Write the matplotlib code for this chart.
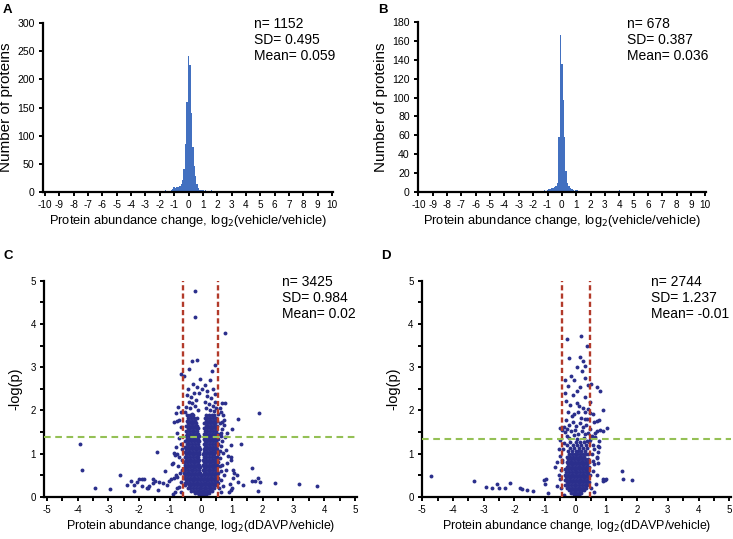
import matplotlib
matplotlib.use('Agg')
import matplotlib.pyplot as plt
from matplotlib.ticker import MultipleLocator

plt.rcParams['font.family'] = ['Liberation Sans', 'DejaVu Sans']
plt.rcParams['axes.unicode_minus'] = False

# ---- panel A histogram (bin centre, count) ----
a_bins = [-4.1, -3.2, -2.5, -2.1, -1.6, -1.4, -1.2, -1.1, -1.0, -0.9, -0.8, -0.7,
          -0.6, -0.5, -0.4, -0.3, -0.2, -0.1, 0.0, 0.1, 0.2, 0.3, 0.4, 0.5, 0.6,
          0.7, 0.8, 0.9, 1.0, 1.2, 1.4, 1.6, 1.8, 2.2, 2.5, 3.0, 3.4, 3.6, 4.0,
          4.6, 5.1, 5.9, 6.1]
a_counts = [1, 1, 2, 2, 3, 2, 4, 6, 8, 7, 8, 9,
            11, 14, 22, 40, 85, 160, 242, 226, 140, 80, 46, 28, 14,
            7, 4, 3, 3, 3, 2, 3, 2, 2, 1, 2, 1, 1, 2,
            2, 1, 1, 1]

# ---- panel B histogram ----
b_bins = [-2.4, -2.2, -1.9, -1.5, -1.2, -1.0, -0.9, -0.8, -0.7, -0.6, -0.5, -0.4,
          -0.3, -0.2, -0.1, 0.0, 0.1, 0.2, 0.3, 0.4, 0.5, 0.6, 0.7, 0.8, 1.0,
          1.1, 1.3, 1.6, 1.9, 2.1, 4.0]
b_counts = [1, 1, 1, 1, 2, 2, 3, 3, 4, 4, 5, 6,
            10, 58, 166, 135, 97, 58, 22, 10, 6, 4, 3, 2, 2,
            2, 1, 1, 1, 1, 2]

# ---- panel C volcano: dense core read row by row (y, [x...]) ----
c_core_rows = [
    (0.03, [-0.06, 0.02, 0.09, 0.15]),
    (0.08, [-0.18, -0.1, -0.02, 0.05, 0.12, 0.2, 0.27]),
    (0.14, [-0.31, -0.22, -0.13, -0.05, 0.03, 0.11, 0.19, 0.27, 0.36]),
    (0.20, [-0.42, -0.34, -0.25, -0.16, -0.07, 0.01, 0.1, 0.18, 0.26, 0.34, 0.43]),
    (0.26, [-0.5, -0.4, -0.31, -0.22, -0.13, -0.04, 0.05, 0.14, 0.22, 0.31, 0.4, 0.49]),
    (0.32, [-0.53, -0.44, -0.35, -0.26, -0.17, -0.08, 0.0, 0.09, 0.18, 0.27, 0.36, 0.45, 0.54]),
    (0.38, [-0.49, -0.4, -0.3, -0.21, -0.12, -0.03, 0.06, 0.15, 0.24, 0.33, 0.42, 0.51]),
    (0.44, [-0.54, -0.45, -0.36, -0.27, -0.18, -0.09, 0.01, 0.1, 0.19, 0.28, 0.37, 0.46, 0.56]),
    (0.50, [-0.5, -0.41, -0.32, -0.22, -0.13, -0.04, 0.05, 0.14, 0.23, 0.33, 0.42, 0.51]),
    (0.56, [-0.55, -0.46, -0.37, -0.28, -0.19, -0.1, -0.03, 0.09, 0.18, 0.27, 0.36, 0.45, 0.54]),
    (0.62, [-0.5, -0.42, -0.33, -0.24, -0.15, -0.06, 0.07, 0.13, 0.22, 0.31, 0.4, 0.49]),
    (0.68, [-0.53, -0.45, -0.36, -0.27, -0.18, -0.09, -0.03, 0.09, 0.17, 0.26, 0.35, 0.44, 0.53]),
    (0.74, [-0.5, -0.41, -0.32, -0.23, -0.14, -0.05, 0.08, 0.17, 0.26, 0.35, 0.44, 0.52]),
    (0.80, [-0.54, -0.45, -0.36, -0.27, -0.18, -0.09, 0.09, 0.17, 0.25, 0.33, 0.41, 0.49, 0.56]),
    (0.86, [-0.49, -0.4, -0.31, -0.22, -0.13, -0.05, 0.08, 0.17, 0.26, 0.35, 0.44, 0.53]),
    (0.92, [-0.53, -0.44, -0.35, -0.26, -0.17, -0.08, 0.1, 0.18, 0.27, 0.36, 0.45, 0.52]),
    (0.98, [-0.48, -0.39, -0.3, -0.21, -0.12, -0.05, 0.08, 0.17, 0.26, 0.35, 0.44, 0.54]),
    (1.04, [-0.52, -0.43, -0.34, -0.25, -0.16, -0.07, 0.11, 0.19, 0.28, 0.37, 0.46]),
    (1.10, [-0.47, -0.38, -0.29, -0.2, -0.11, -0.04, 0.09, 0.17, 0.26, 0.35, 0.44, 0.53]),
    (1.16, [-0.51, -0.42, -0.33, -0.24, -0.15, -0.07, 0.12, 0.21, 0.3, 0.39, 0.48]),
    (1.22, [-0.46, -0.37, -0.28, -0.19, -0.1, 0.09, 0.18, 0.27, 0.36, 0.45, 0.54]),
    (1.28, [-0.5, -0.41, -0.32, -0.23, -0.14, -0.06, 0.12, 0.21, 0.3, 0.39, 0.49]),
    (1.34, [-0.45, -0.36, -0.27, -0.18, -0.09, 0.09, 0.18, 0.27, 0.36, 0.45, 0.55]),
    (1.40, [-0.49, -0.4, -0.31, -0.22, -0.13, -0.05, 0.13, 0.22, 0.31, 0.4, 0.49]),
    (1.46, [-0.44, -0.35, -0.26, -0.17, -0.08, 0.1, 0.18, 0.27, 0.36, 0.45, 0.54]),
    (1.52, [-0.48, -0.39, -0.3, -0.21, -0.12, 0.12, 0.21, 0.3, 0.39, 0.48]),
    (1.58, [-0.43, -0.34, -0.25, -0.16, -0.08, 0.1, 0.19, 0.28, 0.37, 0.46]),
    (1.64, [-0.47, -0.38, -0.29, -0.2, -0.11, 0.15, 0.24, 0.33, 0.42, 0.51]),
    (1.70, [-0.42, -0.33, -0.24, -0.15, 0.11, 0.2, 0.29, 0.38, 0.47]),
    (1.76, [-0.46, -0.37, -0.28, -0.19, 0.16, 0.25, 0.34, 0.43, 0.52]),
    (1.82, [-0.41, -0.32, -0.23, -0.14, 0.12, 0.21, 0.3, 0.39, 0.48]),
    (1.88, [-0.44, -0.35, -0.26, 0.17, 0.26, 0.35, 0.44]),
]

c_outer = [
    (-0.19, 4.76), (-0.19, 4.15), (0.79, 3.79), (-0.11, 3.16), (-0.30, 3.14), (-0.38, 2.96),
    (0.46, 3.04), (0.35, 2.90), (-0.64, 2.85), (-0.56, 2.79), (-0.02, 2.72), (0.30, 2.70),
    (0.12, 2.58), (-0.25, 2.62), (0.40, 2.50), (0.78, 2.18), (1.88, 1.94), (1.20, 1.81),
    (1.00, 1.57), (1.30, 1.21), (-3.92, 1.23), (-3.85, 0.62), (-1.41, 1.04), (-3.45, 0.19),
    (-2.94, 0.17), (-2.64, 0.50), (-2.40, 0.27), (-2.28, 0.36), (-2.18, 0.14), (-2.18, 0.26),
    (-2.06, 0.35), (-2.00, 0.40), (-1.92, 0.41), (-1.86, 0.40), (-1.90, 0.24), (-1.76, 0.19),
    (-1.73, 0.19), (-1.69, 0.25), (-1.56, 0.32), (-1.48, 0.37), (-1.54, 0.40), (-1.38, 0.15),
    (-1.37, 0.33), (-1.22, 0.32), (-1.16, 0.60), (-1.03, 0.37), (-0.96, 0.40), (-0.88, 0.43),
    (-0.82, 0.51), (-0.91, 0.79), (-0.84, 0.96), (-0.79, 1.00), (-0.76, 1.75), (-0.84, 0.12),
    (-0.79, 0.19), (0.97, 0.92), (1.65, 0.66), (1.08, 0.56), (1.16, 0.50), (1.03, 0.43),
    (1.21, 0.35), (1.65, 0.36), (1.76, 0.36), (1.86, 0.44), (1.91, 0.34), (1.86, 0.14),
    (1.36, 0.27), (2.41, 0.31), (3.19, 0.29), (3.78, 0.25), (1.00, 0.19), (0.92, 0.12),
    (0.69, 2.16), (0.72, 1.89), (0.74, 1.78), (0.76, 1.66), (0.68, 1.57), (0.86, 1.47),
    (0.78, 1.39), (0.97, 1.20), (0.81, 1.08), (0.97, 0.85), (0.86, 0.78), (1.03, 0.62),
    (0.94, 0.30), (0.97, 0.15), (0.66, 1.95), (0.70, 1.72), (0.64, 1.48), (0.70, 1.30),
    (0.66, 1.18), (0.72, 1.02), (0.63, 0.90), (0.70, 0.74), (0.66, 0.60), (0.75, 0.50),
    (0.64, 0.38), (0.72, 0.25), (0.66, 0.12), (0.82, 0.62), (0.88, 0.94), (0.62, 2.05),
    (0.63, 1.70), (0.65, 1.40), (0.62, 1.05), (0.61, 0.70), (0.60, 0.20),
    (-0.86, 1.74), (-0.81, 1.94), (-0.74, 2.08), (-0.65, 1.96), (-0.78, 1.48), (-0.72, 1.35),
    (-0.80, 1.15), (-0.66, 1.22), (-0.88, 1.02), (-0.70, 0.92), (-0.95, 0.75), (-0.74, 0.72),
    (-0.62, 0.84), (-0.68, 0.55), (-0.78, 0.46), (-0.64, 0.33), (-0.72, 0.22), (-0.92, 0.06),
    (-0.66, 1.62), (-0.62, 1.10), (-0.60, 0.62), (-0.63, 0.10), (-1.10, 0.28), (-0.70, 1.78),
    (-0.45, 2.35), (-0.33, 2.30), (-0.22, 2.40), (-0.40, 2.20), (-0.28, 2.18), (-0.15, 2.25),
    (-0.48, 2.08), (-0.36, 2.05), (-0.20, 2.10), (-0.10, 2.00), (0.20, 2.32), (0.32, 2.28),
    (0.45, 2.20), (0.12, 2.20), (0.26, 2.15), (0.38, 2.10), (0.50, 2.05), (0.15, 2.05),
    (0.28, 2.00), (0.42, 1.98), (0.55, 1.92), (-0.50, 1.95), (-0.30, 1.92), (-0.05, 2.40),
    (0.05, 2.50), (0.20, 2.45), (0.45, 2.38), (-0.42, 2.50), (-0.12, 2.55),
]

# ---- panel D volcano ----
d_core_rows = [
    (0.03, [-0.05, 0.03, 0.1]),
    (0.09, [-0.15, -0.07, 0.01, 0.09, 0.17]),
    (0.15, [-0.23, -0.15, -0.06, 0.02, 0.1, 0.19, 0.27]),
    (0.21, [-0.3, -0.21, -0.12, -0.03, 0.06, 0.15, 0.24, 0.33]),
    (0.27, [-0.34, -0.25, -0.16, -0.07, 0.02, 0.11, 0.2, 0.29, 0.38]),
    (0.33, [-0.3, -0.21, -0.12, -0.03, 0.06, 0.15, 0.24, 0.33, 0.42]),
    (0.39, [-0.36, -0.27, -0.18, -0.09, 0.0, 0.09, 0.18, 0.27, 0.36]),
    (0.45, [-0.32, -0.23, -0.14, -0.05, 0.04, 0.13, 0.22, 0.31, 0.4]),
    (0.51, [-0.35, -0.26, -0.17, -0.08, 0.01, 0.1, 0.19, 0.28, 0.37, 0.45]),
    (0.57, [-0.31, -0.22, -0.13, -0.04, 0.05, 0.14, 0.23, 0.32, 0.41]),
    (0.63, [-0.34, -0.25, -0.16, -0.07, 0.02, 0.11, 0.2, 0.29, 0.38]),
    (0.69, [-0.3, -0.21, -0.12, -0.03, 0.06, 0.15, 0.24, 0.33, 0.42]),
    (0.75, [-0.26, -0.17, -0.08, 0.01, 0.1, 0.19, 0.28, 0.37]),
    (0.81, [-0.29, -0.2, -0.11, -0.02, 0.07, 0.16, 0.25, 0.34, 0.43]),
    (0.87, [-0.24, -0.15, -0.06, 0.03, 0.12, 0.21, 0.3, 0.39]),
    (0.93, [-0.27, -0.18, -0.09, 0.0, 0.09, 0.18, 0.27]),
    (0.99, [-0.22, -0.13, -0.04, 0.05, 0.14, 0.23, 0.32, 0.41]),
    (1.05, [-0.25, -0.11, 0.0, 0.08, 0.17, 0.3]),
    (1.12, [-0.18, -0.05, 0.12, 0.22, 0.38]),
    (1.19, [-0.28, -0.1, 0.05, 0.18, 0.33]),
    (1.26, [-0.2, 0.0, 0.13, 0.26, 0.44]),
]

d_outer = [
    (-4.73, 0.49), (-3.30, 0.36), (-2.92, 0.23), (-2.73, 0.19), (-2.57, 0.29), (-2.51, 0.21),
    (-2.32, 0.19), (-2.13, 0.31), (-1.81, 0.21), (-1.76, 0.18), (-1.59, 0.15), (-1.41, 0.14),
    (-1.05, 0.39), (-0.96, 0.40), (-1.00, 0.30), (-0.92, 0.08), (-0.67, 0.69), (-0.60, 0.80),
    (-0.55, 0.50), (-0.50, 0.40), (-0.62, 0.25), (-0.48, 0.62), (-0.45, 0.85), (-0.52, 0.95),
    (-0.42, 1.10), (-0.47, 0.20), (-0.40, 0.05),
    (1.52, 0.59), (1.55, 0.42), (1.83, 0.39), (0.90, 0.42), (0.95, 0.38), (0.98, 0.40),
    (0.90, 0.36), (0.60, 0.10), (0.65, 0.30), (0.55, 0.60), (0.60, 0.75), (0.68, 0.90),
    (0.52, 1.00), (0.60, 1.10), (0.72, 1.18), (0.55, 1.20), (0.64, 1.38), (0.70, 0.50),
    (0.50, 0.20), (0.55, 0.82),
    (-0.29, 3.64), (0.16, 3.73), (0.36, 3.50), (-0.22, 3.22), (0.14, 3.23), (0.23, 3.13),
    (0.30, 3.02), (-0.05, 2.69), (-0.24, 2.56), (0.14, 2.55), (0.41, 2.58), (0.49, 2.60),
    (0.68, 2.53), (0.79, 2.45), (0.90, 2.01), (1.01, 1.59), (0.90, 1.51), (0.74, 1.77),
    (0.68, 1.75), (0.60, 1.74), (0.80, 1.55), (0.70, 1.52), (0.62, 1.48), (0.77, 1.30),
    (0.74, 1.16), (0.72, 1.04), (0.70, 0.92), (0.72, 0.78),
    (-0.53, 1.60), (-0.45, 1.55), (-0.35, 1.49), (-0.50, 1.32), (-0.40, 1.25), (-0.55, 1.10),
    (-0.45, 0.80),
    (-0.31, 2.22), (-0.18, 2.13), (0.03, 2.17), (0.11, 2.09), (0.24, 2.06), (0.29, 1.97),
    (0.41, 2.04), (0.47, 1.94), (-0.26, 1.96), (-0.13, 1.87), (-0.06, 1.91), (0.07, 1.95),
    (0.17, 1.83), (0.29, 1.79), (0.37, 1.81), (0.55, 1.92), (-0.33, 1.77), (-0.21, 1.66),
    (-0.09, 1.74), (0.01, 1.63), (0.13, 1.71), (0.23, 1.61), (0.34, 1.66), (0.46, 1.57),
    (-0.38, 1.62), (-0.27, 1.56), (-0.16, 1.51), (-0.02, 1.55), (0.07, 1.46), (0.19, 1.52),
    (0.31, 1.44), (0.41, 1.47), (0.52, 1.41), (-0.29, 1.40), (-0.21, 1.35), (-0.07, 1.43),
    (0.04, 1.33), (0.26, 1.37), (0.36, 1.28), (0.46, 1.31), (-0.35, 2.40), (-0.10, 2.35),
    (0.05, 2.45), (0.30, 2.30), (0.45, 2.20), (-0.15, 2.80), (0.30, 2.75), (0.05, 3.00),
    (-0.35, 2.70), (0.20, 2.90),
]

# thresholds and summary text
c_fold_cut = 0.57
c_p_cut = 1.39
d_fold_cut = 0.46
d_p_cut = 1.33
stats_a = "n= 1152\nSD= 0.495\nMean= 0.059"
stats_b = "n= 678\nSD= 0.387\nMean= 0.036"
stats_c = "n= 3425\nSD= 0.984\nMean= 0.02"
stats_d = "n= 2744\nSD= 1.237\nMean= -0.01"

W, H = 733, 539
BAR_BLUE = '#4270c0'
DOT_BLUE = '#2b2f8c'
RED = '#b23a2a'
GREEN = '#94c055'


def add_axes_px(fig, left, top, right, bottom):
    return fig.add_axes([left / W, 1 - bottom / H, (right - left) / W, (bottom - top) / H])


def style_axes(ax, labelsize):
    for s in ('top', 'right'):
        ax.spines[s].set_visible(False)
    for s in ('left', 'bottom'):
        ax.spines[s].set_linewidth(1.6)
    ax.tick_params(which='both', direction='out', length=3, width=1.4, labelsize=labelsize, pad=3)


def unpack(rows, outer):
    xs, ys = [], []
    for y, row in rows:
        xs += row
        ys += [y] * len(row)
    for x, y in outer:
        xs.append(x)
        ys.append(y)
    return xs, ys


def hist_panel(fig, rect, bins, counts, xlim, ymax, ystep, stats, stats_x, letter):
    ax = add_axes_px(fig, *rect)
    ax.bar(bins, counts, width=0.1, color=BAR_BLUE, linewidth=0)
    ax.set_xlim(*xlim)
    ax.set_ylim(0, ymax)
    ax.set_xticks(range(-10, 11))
    ax.yaxis.set_major_locator(MultipleLocator(ystep))
    style_axes(ax, 7.2)
    ax.tick_params(axis='y', labelsize=7.6)
    ax.set_xlabel('Protein abundance change, log$_2$(vehicle/vehicle)', fontsize=9.3, labelpad=2)
    ax.set_ylabel('Number of proteins', fontsize=11, labelpad=3)
    fig.text(stats_x / W, 1 - 17 / H, stats, fontsize=10, va='top', linespacing=1.2)
    fig.text((rect[0] - 40) / W, 1 - 4 / H, letter, fontsize=9.5, fontweight='bold', va='top')
    return ax


def volcano_panel(fig, rect, xs, ys, xlim, fold_cut, p_cut, stats, stats_x, letter):
    ax = add_axes_px(fig, *rect)
    ax.plot(xs, ys, 'o', color=DOT_BLUE, markersize=2.8, markeredgewidth=0)
    ax.axvline(-fold_cut, color=RED, lw=1.7, ls=(0, (2.2, 1.3)), zorder=3)
    ax.axvline(fold_cut, color=RED, lw=1.7, ls=(0, (2.2, 1.3)), zorder=3)
    ax.axhline(p_cut, color=GREEN, lw=1.5, ls=(0, (3.2, 2.2)), zorder=3)
    ax.set_xlim(*xlim)
    ax.set_ylim(0, 5)
    ax.xaxis.set_major_locator(MultipleLocator(1))
    ax.xaxis.set_minor_locator(MultipleLocator(0.5))
    ax.yaxis.set_major_locator(MultipleLocator(1))
    ax.yaxis.set_minor_locator(MultipleLocator(0.5))
    style_axes(ax, 7)
    ax.set_xlabel('Protein abundance change, log$_2$(dDAVP/vehicle)', fontsize=8.9, labelpad=2)
    ax.set_ylabel('-log(p)', fontsize=10.5, labelpad=6)
    fig.text(stats_x / W, 1 - 275 / H, stats, fontsize=10, va='top', linespacing=1.2)
    fig.text((rect[0] - 41) / W, 1 - 250 / H, letter, fontsize=9.5, fontweight='bold', va='top')
    return ax


fig = plt.figure(figsize=(W / 100, H / 100), dpi=100)

hist_panel(fig, (43, 23, 333, 192), a_bins, a_counts, (-10.14, 10.07), 300, 50, stats_a, 254, 'A')
hist_panel(fig, (418, 22, 706, 192), b_bins, b_counts, (-10.03, 10.05), 180, 20, stats_b, 627, 'B')

cx, cy = unpack(c_core_rows, c_outer)
volcano_panel(fig, (44.3, 280.7, 356.7, 496.7), cx, cy, (-5.08, 5.055), c_fold_cut, c_p_cut,
              stats_c, 282, 'C')
dx, dy = unpack(d_core_rows, d_outer)
volcano_panel(fig, (422, 280.7, 730.8, 496.7), dx, dy, (-5.01, 5.05), d_fold_cut, d_p_cut,
              stats_d, 651, 'D')

fig.savefig('out.png', dpi=100)
